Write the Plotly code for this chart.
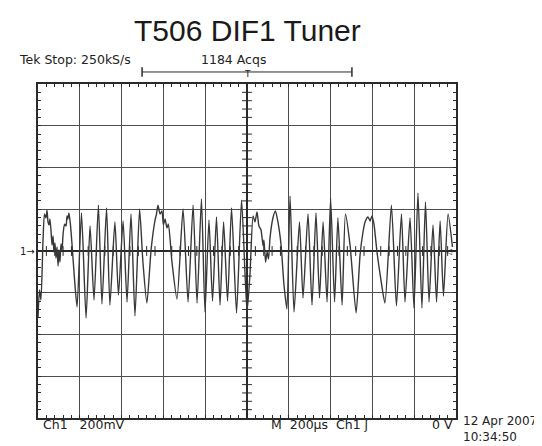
import numpy as np
import plotly.graph_objects as go

# Waveform turning points (time in µs relative to trigger, voltage in mV)
time_us = [-1000, -993, -986, -976, -969, -962, -957, -952, -947, -943, -938, -933, -928, -924,
           -919, -914, -909, -904, -900, -895, -890, -885, -880, -873, -866, -861, -857, -852,
           -845, -837, -825, -813, -792, -770, -751, -732, -711, -694, -672, -656, -632, -615,
           -593, -574, -555, -536, -514, -498, -479, -459, -440, -433, -426, -416, -407, -400,
           -392, -383, -376, -359, -335, -306, -282, -258, -239, -218, -201, -182, -165, -146,
           -129, -112, -93, -74, -50, -26, 0, 14, 29, 38, 48, 57, 67, 77, 81, 89, 96, 103, 110,
           124, 136, 148, 163, 177, 191, 206, 225, 251, 268, 292, 311, 330, 347, 364, 383, 400,
           419, 435, 455, 471, 493, 522, 541, 555, 565, 579, 589, 598, 608, 622, 641, 660, 691,
           715, 739, 756, 780, 799, 818, 837, 854, 871, 890, 907, 924, 940, 962, 983]
volt_mv = [-321, -187, -235, 53, 177, 158, 196, 139, 125, 153, 101, 29, 72, -5,
           38, -34, 19, -72, 5, -53, 34, 5, 81, 129, 120, 168, 153, 182,
           129, 29, -139, -268, 182, -321, 120, -235, 220, -254, 206, -259, 139, -211,
           144, -244, 177, -311, 201, -53, -249, 5, 148, 177, 220, 177, 192, 125,
           153, 110, 129, -53, -230, 201, -244, 220, -249, 249, -292, 148, -240, 163,
           -259, 139, -240, 206, -297, 244, -292, -115, 168, 139, 187, 120, 101, 24, 53, -53, -5, -38, 62,
           158, 192, 139, 29, -163, -278, 263, -292, 139, -225, 177, -259, 182, -225, 139, -244, 254,
           -244, 158, -259, 177, 29, -297, -19, 91, 139, 163, 144, 168, 125, -5, -139, -249, 220,
           -263, 177, -244, 158, -273, 278, -273, 235, -244, 125, -244, 144, -216, 177, 19]

# Screen scaffolding: 10 horizontal divisions of 200 µs, 8 vertical divisions of 200 mV
x_range = [-1000, 1000]
y_range = [-800, 800]
x_div = 200
y_div = 200
minor_x = [t for t in np.arange(-1000, 1001, 40) if t % 200 != 0]
minor_y = [v for v in np.arange(-800, 801, 40) if v % 200 != 0]

grid_col = "#4d4d4d"
ink = "#2a2a2a"
tek_font = dict(family="DejaVu Sans", size=12.5, color="#222")

fig = go.Figure()

# center-cross graticule ticks
fig.add_trace(go.Scatter(x=minor_x, y=[0] * len(minor_x), mode="markers",
                         marker=dict(symbol="line-ns", size=7, line=dict(width=1, color=ink)),
                         hoverinfo="skip", showlegend=False))
fig.add_trace(go.Scatter(x=[0] * len(minor_y), y=minor_y, mode="markers",
                         marker=dict(symbol="line-ew", size=7, line=dict(width=1, color=ink)),
                         hoverinfo="skip", showlegend=False))

# waveform
fig.add_trace(go.Scatter(x=time_us, y=volt_mv, mode="lines",
                         line=dict(color="#383838", width=1.4, shape="spline", smoothing=0.6),
                         hoverinfo="skip", showlegend=False))

axis_common = dict(showgrid=True, gridcolor=grid_col, gridwidth=1.2,
                   showticklabels=False, ticks="inside", ticklen=3, tickcolor=ink,
                   showline=True, linecolor=ink, linewidth=1.5, mirror="allticks",
                   zeroline=True, zerolinecolor=ink, zerolinewidth=1.5, fixedrange=True)

fig.update_xaxes(range=x_range, tick0=-1000, dtick=x_div,
                 minor=dict(dtick=40, tick0=-1000, ticks="inside", ticklen=3, tickcolor=ink),
                 **axis_common)
fig.update_yaxes(range=y_range, tick0=-800, dtick=y_div,
                 minor=dict(dtick=40, tick0=-800, ticks="inside", ticklen=3, tickcolor=ink),
                 **axis_common)

ann = []
ann.append(dict(text="T506 DIF1 Tuner", xref="paper", yref="paper", x=0.5, y=1.16,
                xanchor="center", yanchor="middle", showarrow=False,
                font=dict(family="Liberation Sans", size=30, color="#1a1a1a")))
ann.append(dict(text="Tek Stop: 250kS/s", xref="paper", yref="paper", x=-0.05, y=1.074,
                xanchor="left", yanchor="middle", showarrow=False, font=tek_font))
ann.append(dict(text="1184 Acqs", xref="paper", yref="paper", x=0.385, y=1.074,
                xanchor="left", yanchor="middle", showarrow=False, font=tek_font))
ann.append(dict(text="Ch1   200mV", xref="paper", yref="paper", x=0.008, y=-0.02,
                xanchor="left", yanchor="middle", showarrow=False, font=tek_font))
ann.append(dict(text="M  200µs  Ch1 ʃ", xref="paper", yref="paper", x=0.553, y=-0.02,
                xanchor="left", yanchor="middle", showarrow=False, font=tek_font))
ann.append(dict(text="0 V", xref="paper", yref="paper", x=0.997, y=-0.02,
                xanchor="right", yanchor="middle", showarrow=False, font=tek_font))
ann.append(dict(text="12 Apr 2007<br>10:34:50", xref="paper", yref="paper", x=1.013, y=-0.084,
                xanchor="left", yanchor="bottom", align="left", showarrow=False,
                font=dict(family="DejaVu Sans", size=12, color="#222")))
ann.append(dict(text="1→", xref="paper", yref="y", x=-0.002, y=0,
                xanchor="right", yanchor="middle", showarrow=False,
                font=dict(family="DejaVu Sans", size=10, color="#222")))
ann.append(dict(text="◁", xref="x", yref="y", x=962, y=0,
                xanchor="center", yanchor="middle", showarrow=False,
                font=dict(family="DejaVu Sans", size=8, color="#222")))
ann.append(dict(text="T", xref="x", yref="paper", x=0, y=1.031,
                xanchor="center", yanchor="middle", showarrow=False,
                font=dict(family="DejaVu Sans", size=9, color="#222")))

shapes = []
# acquisition record bar above the screen
shapes.append(dict(type="line", xref="x", yref="paper", x0=-502, x1=502, y0=1.036, y1=1.036,
                   line=dict(color=ink, width=1)))
for xb in (-502, 502):
    shapes.append(dict(type="line", xref="x", yref="paper", x0=xb, x1=xb, y0=1.022, y1=1.05,
                       line=dict(color=ink, width=1.5)))

# page body has an 8 px default margin: figure is sized/offset to put the screen at 38..456 x 84..418
fig.update_layout(width=534, height=438, margin=dict(l=30, r=86, t=76, b=28),
                  paper_bgcolor="white", plot_bgcolor="white",
                  annotations=ann, shapes=shapes, showlegend=False)

fig.write_html("out.html")
